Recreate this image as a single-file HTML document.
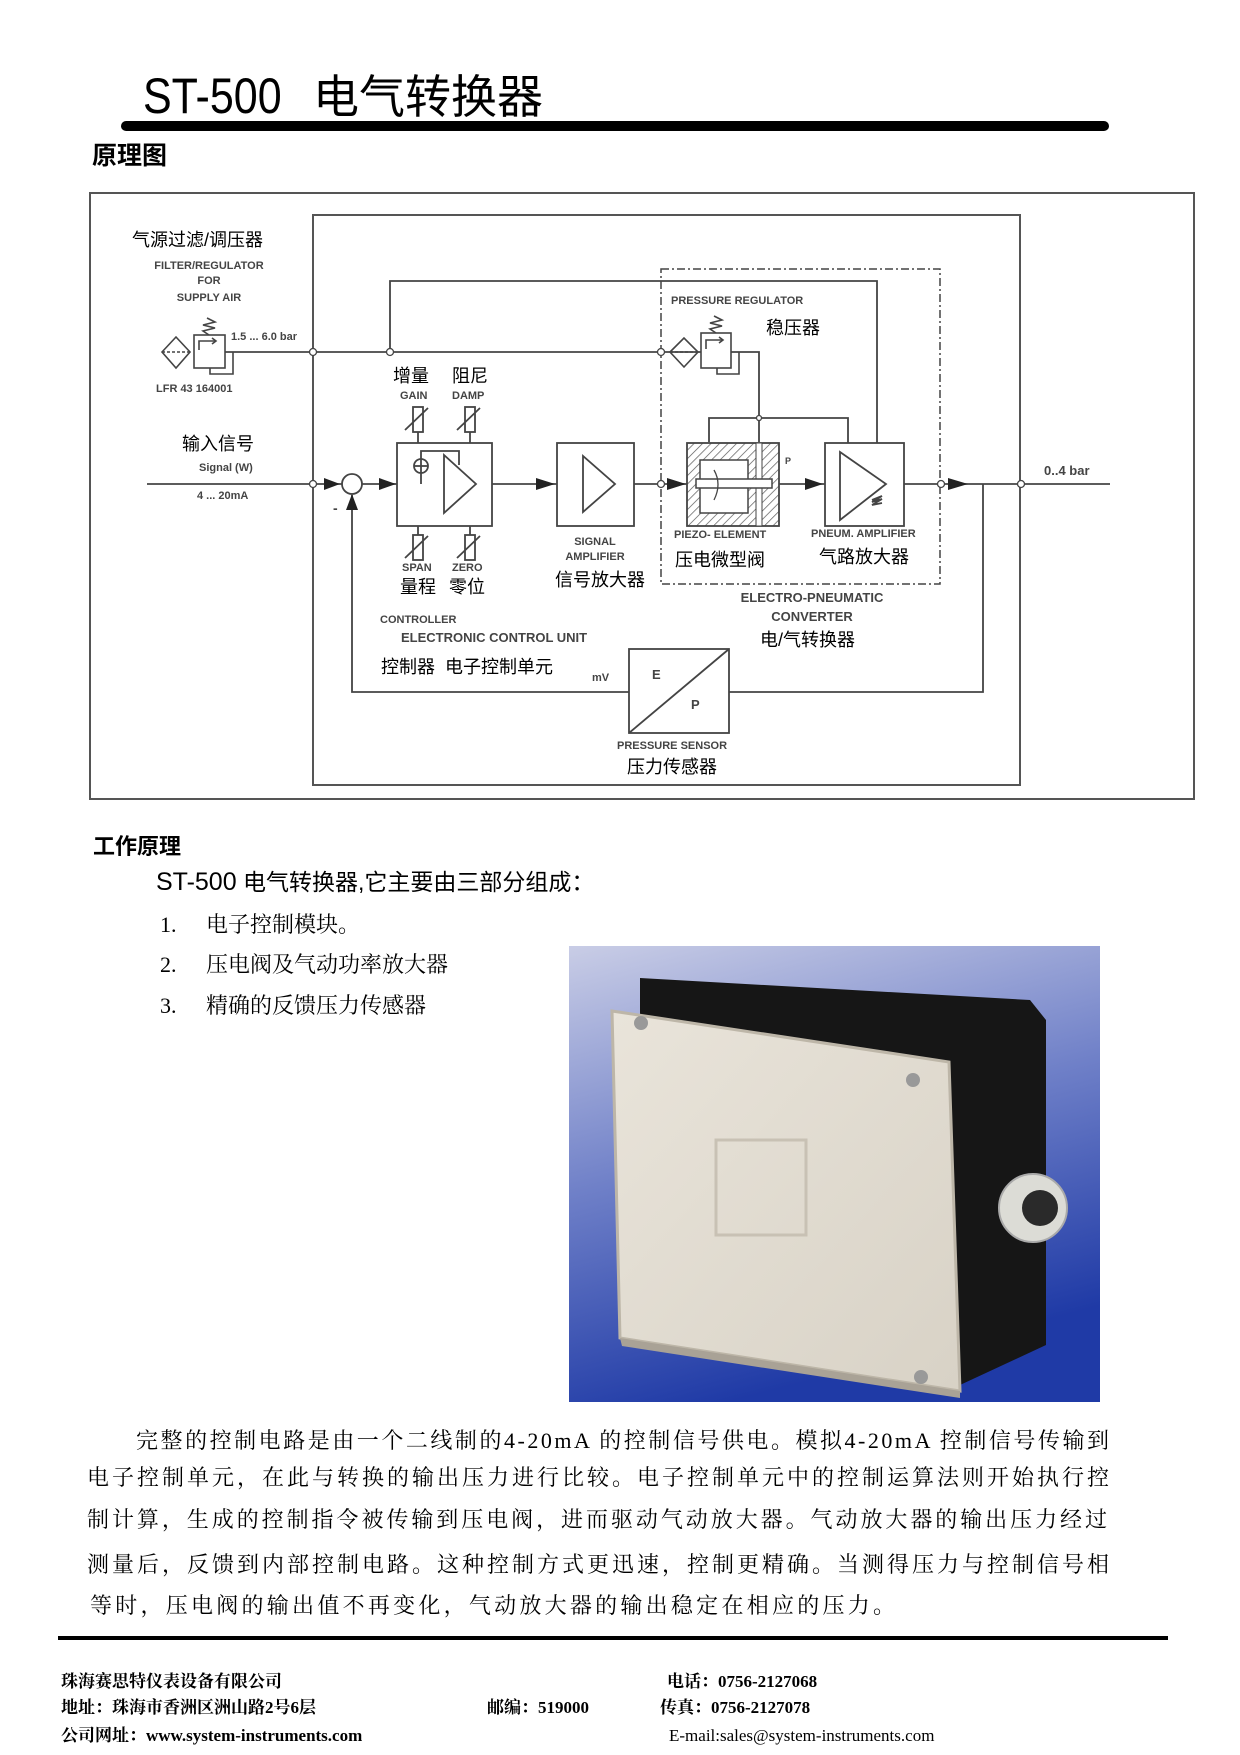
<!DOCTYPE html>
<html><head><meta charset="utf-8">
<style>
html,body{margin:0;padding:0;background:#fff;}
body{width:1240px;height:1755px;position:relative;overflow:hidden;}
svg{position:absolute;left:0;top:0;}
.cn{font-family:"Liberation Sans","Noto Sans CJK SC",sans-serif;}
.en{font-family:"Liberation Sans",sans-serif;font-weight:bold;fill:#444;}
.se{font-family:"Liberation Serif","Noto Serif CJK SC",serif;}
</style></head><body>
<svg width="1240" height="1755" viewBox="0 0 1240 1755" xmlns="http://www.w3.org/2000/svg">
<defs>
<pattern id="h" width="6" height="6" patternUnits="userSpaceOnUse" patternTransform="rotate(45)">
<rect width="6" height="6" fill="#fff"/><line x1="0" y1="0" x2="0" y2="6" stroke="#555" stroke-width="1.4"/></pattern>
<linearGradient id="bg" x1="0" y1="0" x2="0.3" y2="1"><stop offset="0" stop-color="#c9cde6"/><stop offset="0.5" stop-color="#6f80c8"/><stop offset="1" stop-color="#1f3aa6"/></linearGradient>
<linearGradient id="lid" x1="0" y1="0" x2="1" y2="1"><stop offset="0" stop-color="#e9e4da"/><stop offset="1" stop-color="#d8d2c6"/></linearGradient>
</defs>

<!-- Title -->
<text x="143" y="113" font-family="Liberation Sans,sans-serif" font-size="50" transform="translate(143 0) scale(0.86 1) translate(-143 0)">ST-500</text>
<text x="313" y="113" class="cn" font-size="46">电气转换器</text>
<rect x="121" y="121" width="988" height="10" rx="5" fill="#000"/>
<text x="92" y="164" class="cn" font-size="25" font-weight="bold">原理图</text>

<!-- Diagram frames -->
<g fill="none" stroke="#555" stroke-width="2">
<rect x="90" y="193" width="1104" height="606"/>
<rect x="313" y="215" width="707" height="570"/>
</g>
<rect x="661" y="269" width="279" height="315" fill="none" stroke="#444" stroke-width="1.5" stroke-dasharray="8,3,2,3"/>

<g fill="none" stroke="#444" stroke-width="1.8">
<!-- top line -->
<polyline points="390,352 390,281 877,281 877,443"/>
<!-- supply line -->
<line x1="225" y1="352" x2="701" y2="352"/>
<!-- regulator outputs -->
<polyline points="731,352 759,352 759,442"/>
<polyline points="709,442 709,418 848,418 848,443"/>
<!-- main line -->
<line x1="147" y1="484" x2="342" y2="484"/>
<line x1="362" y1="484" x2="397" y2="484"/>
<line x1="492" y1="484" x2="557" y2="484"/>
<line x1="634" y1="484" x2="687" y2="484"/>
<line x1="779" y1="484" x2="825" y2="484"/>
<line x1="904" y1="484" x2="1110" y2="484"/>
<!-- feedback -->
<polyline points="983,484 983,692 729,692"/>
<polyline points="629,692 352,692 352,495"/>
<!-- boxes -->
<rect x="397" y="443" width="95" height="83"/>
<rect x="557" y="443" width="77" height="83"/>
<rect x="825" y="443" width="79" height="83"/>
<rect x="629" y="649" width="100" height="84"/>
<line x1="629" y1="733" x2="729" y2="649"/>
<circle cx="352" cy="484" r="10" fill="#fff"/>
<!-- controller internals -->
<circle cx="421" cy="466" r="7"/><line x1="414" y1="466" x2="428" y2="466"/><line x1="421" y1="459" x2="421" y2="484"/>
<polyline points="421,459 421,451 459,451 459,465"/>
<polygon points="444,455 444,513 476,484"/>
<!-- signal amp -->
<polygon points="583,456 583,512 615,484"/>
<!-- pneum amp -->
<polygon points="840,452 840,520 886,484"/>
<path d="M872,500 l10,-4 -10,6 10,-3 -10,6 10,-2" />
<!-- pots -->
<line x1="418" y1="432" x2="418" y2="443"/><line x1="470" y1="432" x2="470" y2="443"/>
<rect x="413" y="407" width="10" height="25"/><rect x="465" y="407" width="10" height="25"/>
<line x1="405" y1="430" x2="428" y2="408"/><line x1="457" y1="430" x2="480" y2="408"/>
<line x1="418" y1="526" x2="418" y2="535"/><line x1="470" y1="526" x2="470" y2="535"/>
<rect x="413" y="535" width="10" height="25"/><rect x="465" y="535" width="10" height="25"/>
<line x1="405" y1="558" x2="428" y2="536"/><line x1="457" y1="558" x2="480" y2="536"/>
</g>
<!-- piezo -->
<rect x="687" y="443" width="92" height="83" fill="url(#h)" stroke="#444" stroke-width="1.8"/>
<rect x="700" y="460" width="48" height="53" fill="#fff" stroke="#444" stroke-width="1.5"/>
<rect x="756" y="443" width="6" height="83" fill="#fff" stroke="#444" stroke-width="1"/>
<rect x="696" y="479" width="76" height="9" fill="#fff" stroke="#444" stroke-width="1.5"/>
<path d="M714,470 q8,14 0,30" fill="none" stroke="#444" stroke-width="1.3"/>

<!-- arrowheads -->
<g fill="#222">
<polygon points="324,478 340,484 324,490"/>
<polygon points="379,478 396,484 379,490"/>
<polygon points="536,478 555,484 536,490"/>
<polygon points="667,478 686,484 667,490"/>
<polygon points="805,478 823,484 805,490"/>
<polygon points="948,478 968,484 948,490"/>
<polygon points="346,510 352,494 358,510"/>
</g>
<g fill="#fff" stroke="#444" stroke-width="1.3">
<circle cx="313" cy="352" r="3.5"/><circle cx="390" cy="352" r="3.5"/><circle cx="661" cy="352" r="3.5"/>
<circle cx="313" cy="484" r="3.5"/><circle cx="661" cy="484" r="3.5"/><circle cx="941" cy="484" r="3.5"/><circle cx="1021" cy="484" r="3.5"/>
<circle cx="759" cy="418" r="2.5"/>
</g>
<!-- supply filter/regulator -->
<g fill="none" stroke="#444" stroke-width="1.6">
<polygon points="162,352 176,337 190,352 176,368"/><line x1="162" y1="352" x2="190" y2="352" stroke-dasharray="3,2"/>
<rect x="194" y="335" width="31" height="33" fill="#fff"/>
<polyline points="199,350 199,341 215,341"/><polyline points="212,338 216,341 212,344"/>
<polyline points="210,368 210,374 233,374 233,352"/>
<path d="M209,335 l-6,-4 12,-3 -12,-3 12,-3 -8,-4"/>
<polygon points="670,352 684,338 698,352 684,367"/><line x1="670" y1="352" x2="698" y2="352" stroke-dasharray="3,2"/>
<rect x="701" y="333" width="30" height="35" fill="#fff"/>
<polyline points="706,349 706,340 722,340"/><polyline points="719,337 723,340 719,343"/>
<polyline points="717,368 717,374 739,374 739,352"/>
<path d="M716,333 l-6,-4 12,-3 -12,-3 12,-3 -8,-4"/>
</g>

<!-- diagram labels -->
<g class="cn" font-size="18">
<text x="132" y="246">气源过滤/调压器</text>
<text x="393" y="382">增量</text><text x="452" y="382">阻尼</text>
<text x="182" y="450">输入信号</text>
<text x="400" y="593">量程</text><text x="449" y="593">零位</text>
<text x="555" y="586">信号放大器</text>
<text x="766" y="334">稳压器</text>
<text x="675" y="566">压电微型阀</text>
<text x="819" y="563">气路放大器</text>
<text x="760" y="646">电/气转换器</text>
<text x="381" y="673">控制器&#160;&#160;电子控制单元</text>
<text x="627" y="773">压力传感器</text>
</g>
<g class="en" font-size="11">
<text x="209" y="269" text-anchor="middle">FILTER/REGULATOR</text>
<text x="209" y="284" text-anchor="middle">FOR</text>
<text x="209" y="301" text-anchor="middle">SUPPLY AIR</text>
<text x="231" y="340">1.5 ... 6.0 bar</text>
<text x="156" y="392">LFR 43 164001</text>
<text x="400" y="399">GAIN</text><text x="452" y="399">DAMP</text>
<text x="199" y="471">Signal (W)</text>
<text x="197" y="499">4 ... 20mA</text>
<text x="1044" y="475" font-size="13">0..4 bar</text>
<text x="333" y="513" font-size="14">-</text>
<text x="402" y="571">SPAN</text><text x="452" y="571">ZERO</text>
<text x="595" y="545" text-anchor="middle">SIGNAL</text>
<text x="595" y="560" text-anchor="middle">AMPLIFIER</text>
<text x="671" y="304">PRESSURE REGULATOR</text>
<text x="785" y="464" font-size="9">P</text>
<text x="674" y="538">PIEZO- ELEMENT</text>
<text x="811" y="537">PNEUM. AMPLIFIER</text>
<text x="812" y="602" text-anchor="middle" font-size="13">ELECTRO-PNEUMATIC</text>
<text x="812" y="621" text-anchor="middle" font-size="13">CONVERTER</text>
<text x="380" y="623">CONTROLLER</text>
<text x="401" y="642" font-size="13">ELECTRONIC CONTROL UNIT</text>
<text x="592" y="681">mV</text>
<text x="652" y="679" font-size="13">E</text><text x="691" y="709" font-size="13">P</text>
<text x="617" y="749">PRESSURE SENSOR</text>
</g>

<!-- Working principle -->
<text x="93" y="854" class="cn" font-size="22" font-weight="bold">工作原理</text>
<text x="156" y="890" class="cn" font-size="23"><tspan font-family="Liberation Sans,sans-serif" font-size="25">ST-500</tspan> 电气转换器,它主要由三部分组成：</text>
<g class="se" font-size="22">
<text x="160" y="932">1.</text><text x="206" y="932">电子控制模块。</text>
<text x="160" y="972">2.</text><text x="206" y="972">压电阀及气动功率放大器</text>
<text x="160" y="1013">3.</text><text x="206" y="1013">精确的反馈压力传感器</text>
</g>

<!-- photo -->
<rect x="569" y="946" width="531" height="456" fill="url(#bg)"/>
<polygon points="640,978 1030,1000 1046,1020 1046,1345 960,1385 640,1345" fill="#161616"/>
<polygon points="612,1011 949,1062 960,1391 620,1338" fill="url(#lid)" stroke="#bdb6a8" stroke-width="3"/>
<polygon points="620,1338 960,1391 960,1398 622,1346" fill="#a9a296"/>
<circle cx="641" cy="1023" r="7" fill="#999"/><circle cx="913" cy="1080" r="7" fill="#999"/><circle cx="921" cy="1377" r="7" fill="#999"/>
<circle cx="1033" cy="1208" r="34" fill="#dcdcd6" stroke="#aaa" stroke-width="2"/>
<circle cx="1040" cy="1208" r="18" fill="#2a2a2a"/>
<rect x="716" y="1140" width="90" height="95" fill="none" stroke="#c8c1b4" stroke-width="3"/>

<!-- paragraph -->
<g class="se" font-size="22">
<text x="136" y="1448" textLength="973" lengthAdjust="spacing">完整的控制电路是由一个二线制的4-20mA 的控制信号供电。模拟4-20mA 控制信号传输到</text>
<text x="87" y="1485" textLength="1022" lengthAdjust="spacing">电子控制单元，在此与转换的输出压力进行比较。电子控制单元中的控制运算法则开始执行控</text>
<text x="87" y="1527" textLength="1020" lengthAdjust="spacing">制计算，生成的控制指令被传输到压电阀，进而驱动气动放大器。气动放大器的输出压力经过</text>
<text x="87" y="1572" textLength="1022" lengthAdjust="spacing">测量后，反馈到内部控制电路。这种控制方式更迅速，控制更精确。当测得压力与控制信号相</text>
<text x="90" y="1613" textLength="805" lengthAdjust="spacing">等时，压电阀的输出值不再变化，气动放大器的输出稳定在相应的压力。</text>
</g>
<rect x="58" y="1636" width="1110" height="4" fill="#000"/>
<g class="se" font-size="17" font-weight="bold">
<text x="61" y="1687">珠海赛思特仪表设备有限公司</text>
<text x="61" y="1713">地址：珠海市香洲区洲山路2号6层</text>
<text x="61" y="1741">公司网址：www.system-instruments.com</text>
<text x="487" y="1713">邮编：519000</text>
<text x="667" y="1687">电话：0756-2127068</text>
<text x="660" y="1713">传真：0756-2127078</text>
<text x="669" y="1741" font-weight="normal">E-mail:sales@system-instruments.com</text>
</g>
</svg>
</body></html>
